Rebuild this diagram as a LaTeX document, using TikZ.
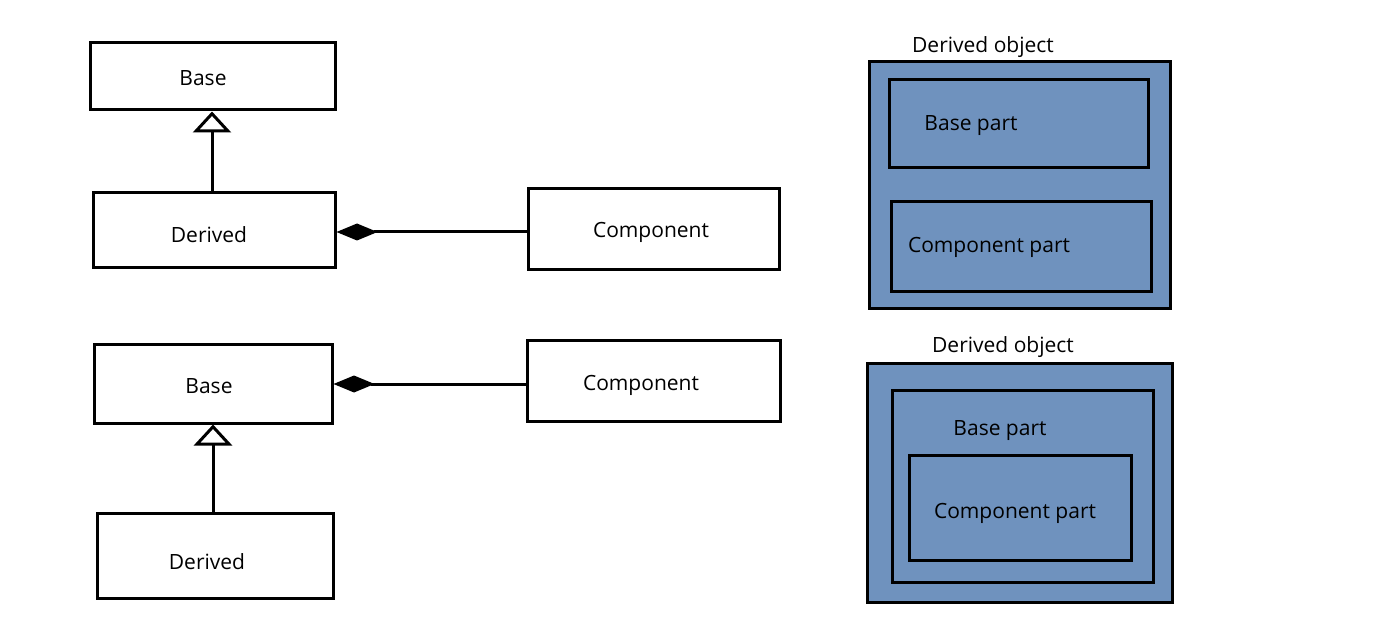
\documentclass[tikz,border=0pt]{standalone}
\usepackage{fontspec}
\setmainfont{Open Sans}
\usepackage{tikz}
\usetikzlibrary{arrows.meta}
\definecolor{partblue}{RGB}{111,146,190}

\begin{document}
\begin{tikzpicture}[x=1pt,y=-1pt,line width=3pt,
        font=\fontsize{21}{24}\selectfont,
        classbox/.style={draw,rectangle,inner sep=0pt},
        inherit/.style={-{Triangle[open,length=21pt,width=38pt]}},
        compose/.style={{Diamond[length=41pt,width=17pt]}-}]
        \useasboundingbox (0,0) rectangle (1380,644);

        % First design: Derived is-a Base, has-a Component
        \node[classbox,minimum width=245pt,minimum height=67pt] (base1) at (212.5,76.5) {};
        \node at (203,78) (base1text) {Base};
        \node[classbox,minimum width=242pt,minimum height=74pt] (derived1) at (214,230) {};
        \node at (209,235) (derived1text) {Derived};
        \node[classbox,minimum width=251pt,minimum height=80pt] (comp1) at (653.5,229) {};
        \node at (651,232) (comp1text) {Component};
        \draw[inherit] (derived1.north -| 212,0) -- (base1.south -| 212,0);
        \draw[compose] (derived1.east |- 0,232) -- (comp1.west |- 0,232);

        % Second design: Base has-a Component, Derived is-a Base
        \node[classbox,minimum width=238pt,minimum height=79pt] (base2) at (213,383.5) {};
        \node at (209,386) (base2text) {Base};
        \node[classbox,minimum width=253pt,minimum height=81pt] (comp2) at (653.5,380.5) {};
        \node at (641,385) (comp2text) {Component};
        \node[classbox,minimum width=236pt,minimum height=85pt] (derived2) at (215,555.5) {};
        \node at (207,562) (derived2text) {Derived};
        \draw[inherit] (derived2.north -| 213,0) -- (base2.south -| 213,0);
        \draw[compose] (base2.east |- 0,384) -- (comp2.west |- 0,384);

        % Object layouts
        \filldraw[fill=partblue] (869,62) rectangle (1170,308);
        \draw (889,80) rectangle (1148,168);
        \draw (891,202) rectangle (1151,291);
        \node at (983,47) (obj1) {Derived object};
        \node at (971,126) (obj1base) {Base part};
        \node at (989,247) (obj1comp) {Component part};

        \filldraw[fill=partblue] (867,363) rectangle (1172,602);
        \draw (892,390) rectangle (1153,582);
        \draw (909,455) rectangle (1131,560);
        \node at (1003,347) (obj2) {Derived object};
        \node at (1000,431) (obj2base) {Base part};
        \node at (1015,513) (obj2comp) {Component part};
    \end{tikzpicture}
\end{document}
